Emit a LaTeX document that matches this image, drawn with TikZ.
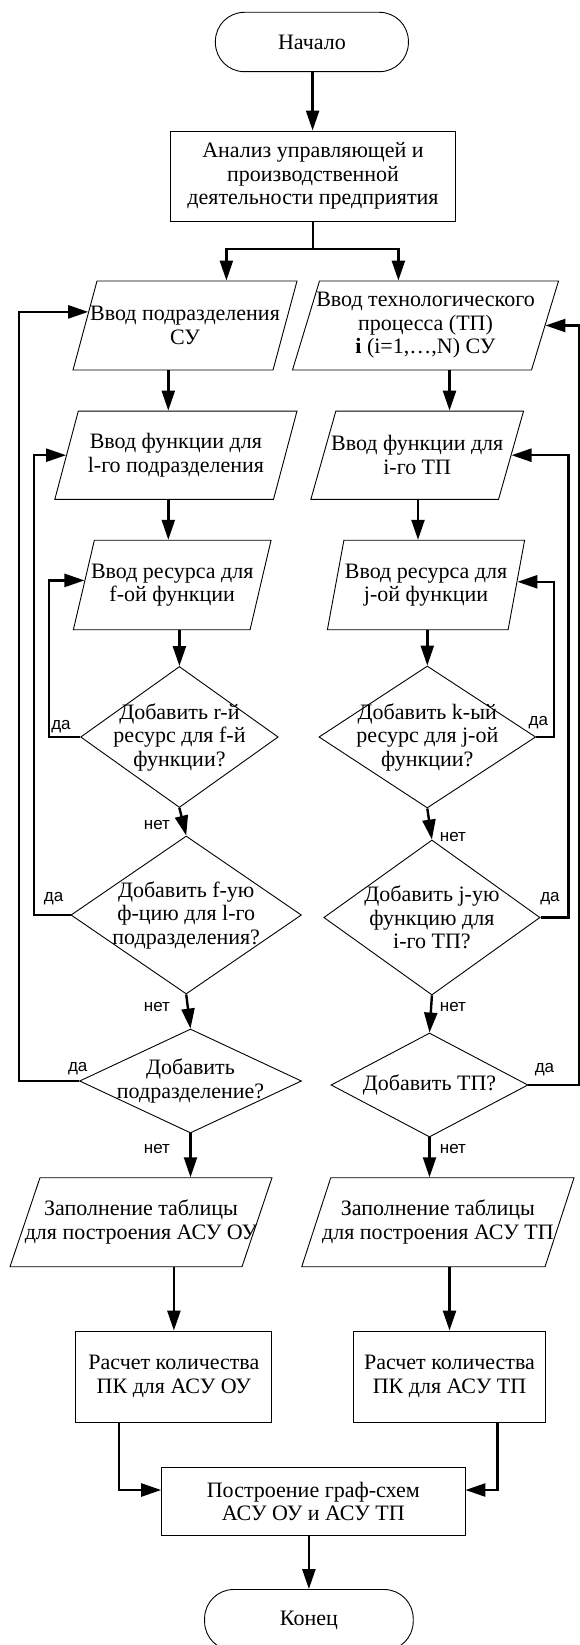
\documentclass[tikz,border=0pt]{standalone}
\usepackage{fontspec}
\setmainfont{Liberation Serif}
\newfontfamily\labelsans{Liberation Sans}
\usetikzlibrary{shapes.geometric,arrows.meta}
\begin{document}
\begin{tikzpicture}[x=1pt,y=-1pt,
  base/.style={draw, line width=0.9pt, inner sep=0pt},
  txt/.style={inner sep=0pt, align=center, font=\fontsize{22}{23.5}\selectfont},
  term/.style={base, rectangle, rounded corners=29pt, txt},
  proc/.style={base, rectangle, txt},
  io/.style={draw, line width=0.9pt, trapezium, minimum width=0pt, minimum height=0pt},
  dec/.style={base, diamond},
  conn/.style={line width=2.4pt},
  arr/.style={conn, -{Triangle[length=20pt,width=13pt]}},
  yn/.style={inner sep=0pt, font=\labelsans\fontsize{17}{17}\selectfont},
]
\useasboundingbox[fill=white] (0,0) rectangle (580,1645);

% terminators and process boxes
\node[term, minimum width=193pt, minimum height=59.4pt] (start) at (311.9,42) {Начало};
\node[proc, minimum width=285pt, minimum height=90pt] (an) at (313,176)
  {Анализ управляющей и\\производственной\\деятельности предприятия};

% left column
\node[io, trapezium left angle=74.91, trapezium right angle=105.09, inner xsep=88pt, inner ysep=44.5pt,
  label={[txt,name=lp1t]center:{Ввод подразделения\\СУ}}] (lp1) at (185,325.5) {};
\node[io, trapezium left angle=75.1, trapezium right angle=104.9, inner xsep=97.6pt, inner ysep=44.15pt,
  label={[txt,name=lp2t]center:{Ввод функции для\\l-го подразделения}}] (lp2) at (175.9,455.2) {};
\node[io, trapezium left angle=76.8, trapezium right angle=103.2, inner xsep=77.85pt, inner ysep=44.75pt,
  label={[txt,name=lp3t]center:{Ввод ресурса для\\f-ой функции}}] (lp3) at (172.2,585) {};
\node[dec, minimum width=197.6pt, minimum height=141pt,
  label={[txt,name=ld1t]center:{Добавить r-й\\ресурс для f-й\\функции?}}] (ld1) at (179.4,737) {};
\node[dec, minimum width=230.5pt, minimum height=158pt,
  label={[txt,name=ld2t]center:{Добавить f-ую\\ф-цию для l-го\\подразделения?}}] (ld2) at (186.2,915) {};
\node[dec, minimum width=222pt, minimum height=104pt,
  label={[txt,name=ld3t]center:{Добавить\\подразделение?}}] (ld3) at (190.5,1081) {};
\node[io, trapezium left angle=71.37, trapezium right angle=108.63, inner xsep=101pt, inner ysep=44.5pt,
  label={[txt,name=lp4t]center:{Заполнение таблицы\\для построения АСУ ОУ}}] (lp4) at (141,1222.2) {};
\node[proc, minimum width=196pt, minimum height=91pt] (lb) at (173.9,1376.5)
  {Расчет количества\\ПК для АСУ ОУ};

% right column
\node[io, trapezium left angle=73.12, trapezium right angle=106.88, inner xsep=106pt, inner ysep=44.5pt,
  label={[txt,name=rp1t]center:{Ввод технологического\\процесса (ТП)\\\textbf{i} (i=1,…,N) СУ}}] (rp1) at (425.5,325.5) {};
\node[io, trapezium left angle=74.19, trapezium right angle=105.81, inner xsep=81.35pt, inner ysep=44.15pt,
  label={[txt,name=rp2t]center:{Ввод функции для\\i-го ТП}}] (rp2) at (417.2,455.2) {};
\node[io, trapezium left angle=79.55, trapezium right angle=100.45, inner xsep=82.1pt, inner ysep=44.75pt,
  label={[txt,name=rp3t]center:{Ввод ресурса для\\j-ой функции}}] (rp3) at (426,585) {};
\node[dec, minimum width=216.8pt, minimum height=142pt,
  label={[txt,name=rd1t]center:{Добавить k-ый\\ресурс для j-ой\\функции?}}] (rd1) at (427.3,737) {};
\node[dec, minimum width=216.3pt, minimum height=155pt,
  label={[txt,name=rd2t]center:{Добавить j-ую\\функцию для\\i-го ТП?}}] (rd2) at (431.9,917.5) {};
\node[dec, minimum width=197pt, minimum height=104pt,
  label={[txt,name=rd3t]center:{Добавить ТП?}}] (rd3) at (429.5,1085) {};
\node[io, trapezium left angle=71.95, trapezium right angle=108.05, inner xsep=107.15pt, inner ysep=44.5pt,
  label={[txt,name=rp4t]center:{Заполнение таблицы\\для построения АСУ ТП}}] (rp4) at (437.9,1222.2) {};
\node[proc, minimum width=192.4pt, minimum height=91pt] (rb) at (449.5,1376.5)
  {Расчет количества\\ПК для АСУ ТП};

% bottom
\node[proc, minimum width=303.3pt, minimum height=68pt] (fin) at (313.3,1501.7)
  {Построение граф-схем\\АСУ ОУ и АСУ ТП};
\node[term, minimum width=208.6pt, minimum height=61pt] (stop) at (308.9,1620) {Конец};

% main flow
\coordinate (jn) at (313,249.3);
\draw[arr] (start.south -| 312.6,0) -- (an.north -| 312.6,0);
\draw[conn] (an.south) -- (jn);
\draw[arr] (jn) -| (lp1.north -| 226.4,0);
\draw[arr] (jn) -| (rp1.north -| 398.4,0);

\draw[arr] (lp1.south -| 168.3,0) -- (lp2.north -| 168.3,0);
\draw[arr] (lp2.south -| 168.3,0) -- (lp3.north -| 168.3,0);
\draw[arr] (lp3.south -| ld1.north) -- (ld1.north);
\draw[arr] (ld1.south) -- (ld2.north);
\draw[arr] (ld2.south) -- (ld3.north);
\draw[arr] (ld3.south) -- (lp4.north -| ld3.south);
\draw[arr] (lp4.south -| lb.north) -- (lb.north);
\draw[arr] (lb.south -| 119,0) |- (fin.west |- 0,1490);

\draw[arr] (rp1.south -| 449.5,0) -- (rp2.north -| 449.5,0);
\draw[arr] (rp2.south -| 418,0) -- (rp3.north -| 418,0);
\draw[arr] (rp3.south -| rd1.north) -- (rd1.north);
\draw[arr] (rd1.south) -- (rd2.north);
\draw[arr] (rd2.south) -- (rd3.north);
\draw[arr] (rd3.south) -- (rp4.north -| rd3.south);
\draw[arr] (rp4.south -| rb.north) -- (rb.north);
\draw[arr] (rb.south -| 497.6,0) |- (fin.east |- 0,1490);

\draw[arr] (fin.south -| stop.north) -- (stop.north);

% feedback loops
\draw[arr] (ld1.west) -- ++(-31.4,0) |- (lp3.177.4);
\draw[arr] (ld2.west) -- ++(-36.6,0) |- (lp2.west);
\draw[arr] (ld3.west) -- ++(-60.3,0) |- (lp1.172.6);
\draw[arr] (rd1.east) -- ++(18.1,0) |- (rp3.2.5);
\draw[arr] (rd2.east) -- ++(27.9,0) |- (rp2.east);
\draw[arr] (rd3.east) -- ++(51,0) |- (rp1.east);

% yes / no labels
\node[yn] (y1) at (61,727) {да};
\node[yn] (y2) at (53.6,899) {да};
\node[yn] (y3) at (77.7,1069) {да};
\node[yn] (y4) at (538.3,723) {да};
\node[yn] (y5) at (550,899) {да};
\node[yn] (y6) at (544.5,1070) {да};
\node[yn] (n1) at (157,825) {нет};
\node[yn] (n2) at (157,1007) {нет};
\node[yn] (n3) at (157,1149) {нет};
\node[yn] (n4) at (453,837) {нет};
\node[yn] (n5) at (453,1007) {нет};
\node[yn] (n6) at (453,1149) {нет};
\end{tikzpicture}
\end{document}
